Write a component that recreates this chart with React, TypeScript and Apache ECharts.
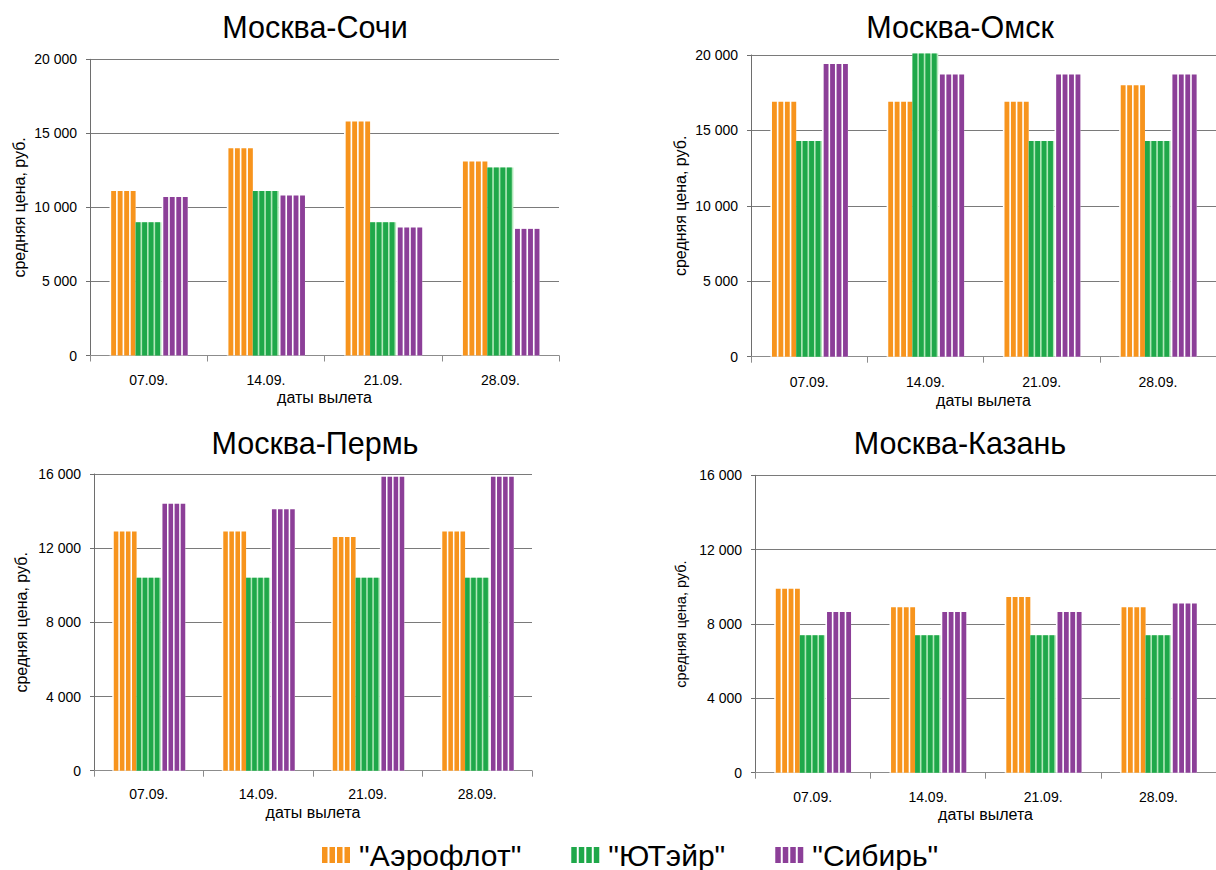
import React, { useEffect, useRef } from "react";
import * as echarts from "echarts";

const categories = ["07.09.", "14.09.", "21.09.", "28.09."];
const seriesNames = ['"Аэрофлот"', '"ЮТэйр"', '"Сибирь"'];
const chartTitles = ["Москва-Сочи", "Москва-Омск", "Москва-Пермь", "Москва-Казань"];
const yAxisName = "средняя цена, руб.";
const xAxisName = "даты вылета";

const sochiAeroflot = [11100, 14000, 15800, 13100];
const sochiUtair = [9000, 11100, 9000, 12700];
const sochiSibir = [10700, 10800, 8650, 8550];

const omskAeroflot = [16900, 16900, 16900, 18000];
const omskUtair = [14300, 20100, 14300, 14300];
const omskSibir = [19400, 18700, 18700, 18700];

const permAeroflot = [12900, 12900, 12600, 12900];
const permUtair = [10400, 10400, 10400, 10400];
const permSibir = [14400, 14100, 15850, 15850];

const kazanAeroflot = [9900, 8900, 9450, 8900];
const kazanUtair = [7400, 7400, 7400, 7400];
const kazanSibir = [8650, 8650, 8650, 9100];

const yMax = [20000, 20000, 16000, 16000];
const yStep = [5000, 5000, 4000, 4000];

const FONT = '"Liberation Sans", Arial, sans-serif';
const COLORS = ["#F7941D", "#1FA84A", "#8C3F98"];
const GAPS = ["#FFFFFF", "#B2E8BA", "#FFFFFF"];
const GAP_FIRST = [true, false, true];

function fmt(v: number) {
  if (v === 0) return "0";
  return String(v).replace(/\B(?=(\d{3})+(?!\d))/g, " ");
}

function makeRender(idx: number) {
  return (params: any, api: any) => {
    const cat = api.value(0);
    const val = api.value(1);
    const top = api.coord([cat, val]);
    const base = api.coord([cat, 0]);
    const band = api.size([1, 0])[0];
    const w = (band * 2) / 9;
    const x0 = base[0] - band / 3 + idx * w;
    const h = base[1] - top[1];
    const p = w / 4;
    const g = p * 0.25;
    const children: any[] = [
      { type: "rect", shape: { x: x0, y: top[1], width: w, height: h }, style: { fill: GAPS[idx] } },
    ];
    for (let i = 0; i < 4; i++) {
      const sx = x0 + i * p + (GAP_FIRST[idx] ? g : 0);
      children.push({
        type: "rect",
        shape: { x: sx, y: top[1], width: p - g, height: h },
        style: { fill: COLORS[idx] },
      });
    }
    return { type: "group", children };
  };
}

const gridsLayout = [
  { left: 90, top: 59.3, width: 469, height: 296.2 },
  { left: 751, top: 55, width: 476, height: 301.7 },
  { left: 94, top: 474, width: 438, height: 296.7 },
  { left: 755, top: 475.3, width: 471, height: 297.4 },
];
const yNameGap = [63, 63, 64.5, 67];
const yNameSize = [16, 16, 16, 14.5];
const xNameGap = [34, 36, 34, 34];
const xLabelMargin = [17, 18, 16, 17];
const titlePos = [
  [315, 27],
  [960, 27],
  [315, 443],
  [960, 443],
];

const stripeIcon = "path://M0,0h5.5v16h-5.5z M7.5,0h5.5v16h-5.5z M15,0h5.5v16h-5.5z M22.5,0h5.5v16h-5.5z";

export default function App() {
  const ref = useRef<HTMLDivElement>(null);
  useEffect(() => {
    if (!ref.current) return;
    const chart = echarts.init(ref.current, undefined, { renderer: "svg" });
    const allData = [
      [sochiAeroflot, sochiUtair, sochiSibir],
      [omskAeroflot, omskUtair, omskSibir],
      [permAeroflot, permUtair, permSibir],
      [kazanAeroflot, kazanUtair, kazanSibir],
    ];
    const series: any[] = [];
    allData.forEach((group, gi) => {
      group.forEach((vals, si) => {
        series.push({
          type: "custom",
          name: seriesNames[si],
          xAxisIndex: gi,
          yAxisIndex: gi,
          itemStyle: { color: COLORS[si] },
          renderItem: makeRender(si),
          encode: { x: 0, y: 1 },
          data: vals.map((v, i) => [i, v]),
        });
      });
    });
    const option: any = {
      animation: false,
      backgroundColor: "#FFFFFF",
      textStyle: { fontFamily: FONT },
      grid: gridsLayout.map((g) => ({ ...g, containLabel: false })),
      xAxis: gridsLayout.map((_, i) => ({
        type: "category",
        gridIndex: i,
        data: categories,
        boundaryGap: true,
        name: xAxisName,
        nameLocation: "middle",
        nameGap: xNameGap[i],
        nameTextStyle: { fontSize: 16, color: "#000", fontFamily: FONT },
        axisLine: { show: true, lineStyle: { color: "#8C8C8C", width: 1 } },
        axisTick: { show: true, length: 6, lineStyle: { color: "#8C8C8C" }, alignWithLabel: false },
        axisLabel: { fontSize: 14, color: "#000", fontFamily: FONT, margin: xLabelMargin[i] },
        splitLine: { show: false },
      })),
      yAxis: gridsLayout.map((_, i) => ({
        type: "value",
        gridIndex: i,
        min: 0,
        max: yMax[i],
        interval: yStep[i],
        name: yAxisName,
        nameLocation: "middle",
        nameGap: yNameGap[i],
        nameTextStyle: { fontSize: yNameSize[i], color: "#000", fontFamily: FONT },
        axisLine: { show: true, lineStyle: { color: "#6E6E6E", width: 1 } },
        axisTick: { show: true, length: 4, lineStyle: { color: "#6E6E6E" } },
        axisLabel: { fontSize: 14, color: "#000", fontFamily: FONT, margin: 13, formatter: fmt },
        splitLine: { show: true, lineStyle: { color: "#7A7A7A", width: 1 } },
      })),
      legend: {
        left: 317,
        top: 835,
        orient: "horizontal",
        itemWidth: 28,
        itemHeight: 16,
        itemGap: 50,
        selectedMode: false,
        textStyle: { fontSize: 30, color: "#000", fontFamily: FONT, padding: [0, 0, 0, 4] },
        data: seriesNames.map((n) => ({ name: n, icon: stripeIcon })),
      },
      graphic: chartTitles.map((t, i) => ({
        type: "text",
        x: titlePos[i][0],
        y: titlePos[i][1],
        style: {
          text: t,
          fontSize: 30.5,
          fontFamily: FONT,
          fill: "#000",
          align: "center",
          verticalAlign: "middle",
        },
      })),
      series,
    };
    chart.setOption(option);
    return () => chart.dispose();
  }, []);
  return (
    <div
      ref={ref}
      style={{ position: "fixed", left: 0, top: 0, width: 1216, height: 870, background: "#fff" }}
    />
  );
}
